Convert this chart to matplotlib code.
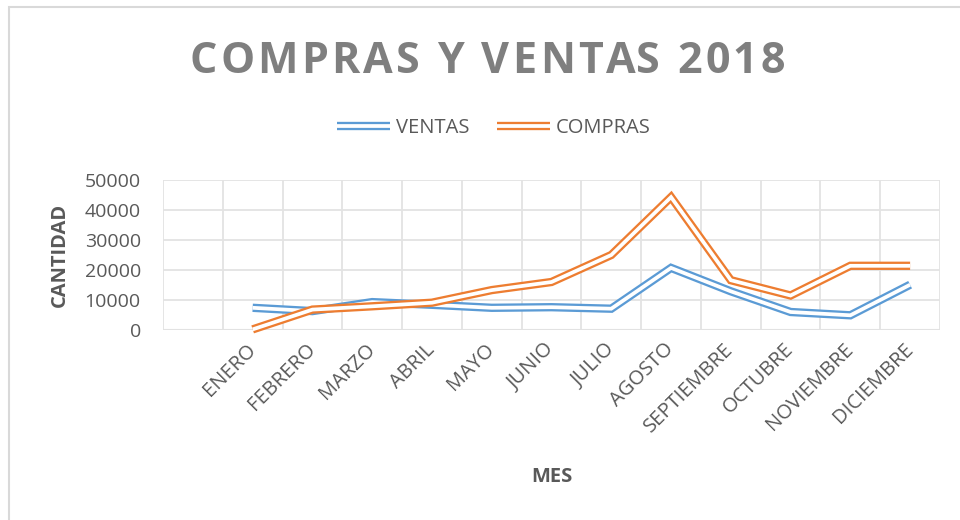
import matplotlib
matplotlib.use("Agg")
import matplotlib.pyplot as plt
import matplotlib.patheffects as pe
from matplotlib.patches import Rectangle
import numpy as np

categories = ["", "ENERO", "FEBRERO", "MARZO", "ABRIL", "MAYO", "JUNIO", "JULIO",
              "AGOSTO", "SEPTIEMBRE", "OCTUBRE", "NOVIEMBRE", "DICIEMBRE"]
ventas = [np.nan, 7400, 6300, 9300, 8400, 7400, 7600, 7100, 20700, 12900, 6000, 4900, 15100]
compras = [np.nan, 200, 6800, 7900, 9100, 13300, 16000, 25000, 44300, 16600, 11500, 21400, 21400]
yticks = [0, 10000, 20000, 30000, 40000, 50000]
title = "COMPRAS Y VENTAS 2018"

BLUE = "#5B9BD5"
ORANGE = "#ED7D31"
TXT = "#595959"
FONT = "Open Sans"

fig = plt.figure(figsize=(9.6, 5.2), dpi=100)
W, H = 960, 520
ax = fig.add_axes([163 / W, 1 - 330 / H, (940 - 163) / W, (330 - 180) / H])

x = np.arange(len(categories))

def double(color):
    return [pe.Stroke(linewidth=6.0, foreground=color),
            pe.Stroke(linewidth=2.7, foreground="white")]

ax.plot(x, ventas, color=BLUE, lw=6.0, label="VENTAS", path_effects=double(BLUE),
        solid_joinstyle="miter", solid_capstyle="butt", zorder=3, clip_on=False)
ax.plot(x, compras, color=ORANGE, lw=6.0, label="COMPRAS", path_effects=double(ORANGE),
        solid_joinstyle="miter", solid_capstyle="butt", zorder=4, clip_on=False)

ax.set_xlim(-0.5, len(categories) - 0.5)
ax.set_ylim(0, 50000)
ax.set_yticks(yticks)
ax.set_yticklabels([str(v) for v in yticks])
ax.set_xticks(x)
ax.set_xticklabels(categories)
ax.set_xticks(np.arange(-0.5, len(categories), 1.0), minor=True)

for s in ax.spines.values():
    s.set_visible(False)
ax.grid(True, axis="y", which="major", color="#e3e3e3", lw=1.3, zorder=0)
ax.grid(True, axis="x", which="minor", color="#e3e3e3", lw=1.3, zorder=0)
ax.grid(False, axis="x", which="major")
ax.axhline(0, color="#d9d9d9", lw=1.5, zorder=1)

ax.tick_params(axis="both", which="both", length=0)
ax.tick_params(axis="y", pad=16, labelsize=14, labelcolor=TXT)
ax.tick_params(axis="x", pad=12, labelsize=14.5, labelcolor=TXT)
for lab in ax.get_yticklabels():
    lab.set_fontfamily(FONT)
for lab in ax.get_xticklabels():
    lab.set_fontfamily(FONT)
    lab.set_rotation(45)
    lab.set_ha("right")
    lab.set_va("center")
    lab.set_rotation_mode("anchor")

# Title with letter spacing
renderer = fig.canvas.get_renderer()
tkw = dict(fontsize=31, fontweight="bold", color="#7f7f7f", family=FONT)

def tw(s):
    t = fig.text(0, 0, s, **tkw)
    w = t.get_window_extent(renderer).width
    t.remove()
    return w

target_w = 595.0
natural = tw(title)
track = (target_w - natural) / (len(title) - 1)
x0 = 487.5 - target_w / 2
wI = tw("I")
for i, ch in enumerate(title):
    if ch == " ":
        continue
    off = 0.0 if i == 0 else tw(title[:i] + "I") - wI
    fig.text((x0 + off + i * track) / W, 1 - 73 / H, ch, ha="left", va="baseline", **tkw)

fig.text(60 / W, 1 - 255 / H, "CANTIDAD", rotation=90, ha="center", va="center",
         fontsize=14.5, fontweight="bold", color=TXT, family=FONT)
fig.text(552 / W, 1 - 477 / H, "MES", ha="center", va="center",
         fontsize=14.5, fontweight="bold", color=TXT, family=FONT)

leg = fig.legend(loc="center", bbox_to_anchor=(494 / W, 1 - 128 / H), ncol=2,
                 frameon=False, handlelength=2.6, handletextpad=0.3,
                 columnspacing=1.4, prop={"family": FONT, "size": 14.5})
for t in leg.get_texts():
    t.set_color(TXT)

fig.patches.append(Rectangle((8.5 / W, -0.1), 1.2, 1 - 7.5 / H + 0.1,
                             transform=fig.transFigure, fill=False,
                             edgecolor="#d9d9d9", lw=1.5, zorder=0))

fig.savefig("out.png", dpi=100, facecolor="white")
